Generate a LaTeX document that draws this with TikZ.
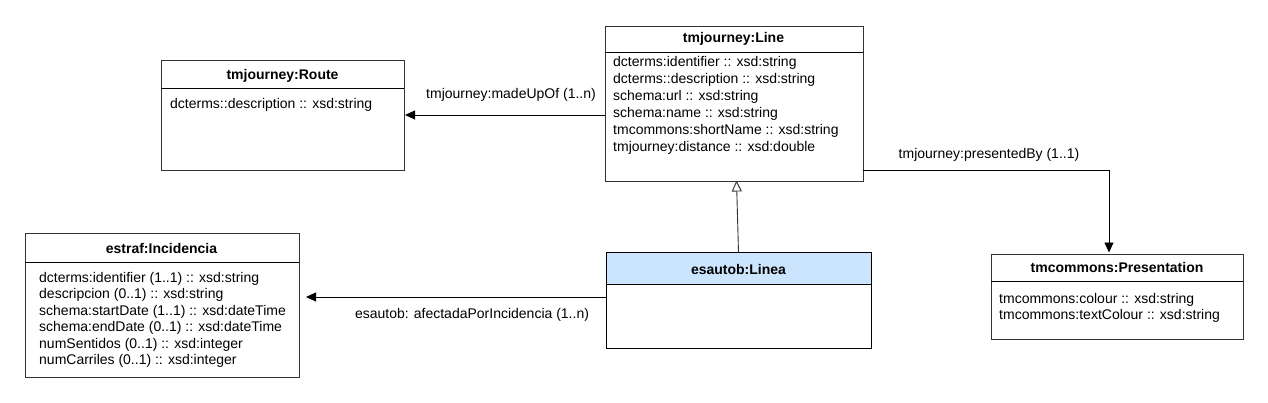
\documentclass[tikz,border=0pt]{standalone}
\usepackage{fontspec}
\setmainfont{Liberation Sans}
\usetikzlibrary{arrows.meta}
\definecolor{stroke}{HTML}{333333}
\definecolor{hdrblue}{HTML}{CCE5FF}
\tikzset{
  cls/.style={draw=stroke, line width=0.9pt, fill=white, anchor=north west, inner sep=0pt},
  ttl/.style={font=\fontsize{14}{16}\selectfont\bfseries, inner sep=0pt},
  attrs/.style={font=\fontsize{14}{17}\selectfont, align=left, anchor=north west, inner sep=0pt},
  attrsB/.style={attrs, font=\fontsize{14}{16.5}\selectfont},
  lbl/.style={font=\fontsize{14}{16}\selectfont, inner sep=0pt},
  assoc/.style={draw=black, line width=0.9pt, -{Triangle[length=10pt,width=9pt]}},
  gen/.style={draw=stroke, line width=0.9pt, -{Triangle[open,length=11pt,width=10pt,fill=white]}}
}
\begin{document}
\begin{tikzpicture}[x=1pt,y=-1pt]
\useasboundingbox (0,0) rectangle (1268,402);
% Route
\node[cls, minimum width=243pt, minimum height=110pt] (route) at (161,60) {};
\draw[stroke, line width=0.9pt] (161,88) -- (404,88);
\node[ttl] (routeT) at (282.5,75.5) {tmjourney:Route};
\node[attrs] (routeA) at (170,98) {dcterms::description :: xsd:string};
% Line
\node[cls, minimum width=258pt, minimum height=155pt] (line) at (604.5,25.5) {};
\draw[stroke, line width=0.9pt] (604.5,52) -- (862.5,52);
\node[ttl] (lineT) at (733.5,39) {tmjourney:Line};
\node[attrs] (lineA) at (613,56) {dcterms:identifier :: xsd:string\\dcterms::description :: xsd:string\\schema:url :: xsd:string\\schema:name :: xsd:string\\tmcommons:shortName :: xsd:string\\tmjourney:distance :: xsd:double};
% Incidencia
\node[cls, minimum width=274pt, minimum height=144pt] (inc) at (24.5,232.5) {};
\draw[stroke, line width=0.9pt] (24.5,262) -- (298.5,262);
\node[ttl] (incT) at (161.5,248) {estraf:Incidencia};
\node[attrsB] (incA) at (39,272) {dcterms:identifier (1..1) :: xsd:string\\descripcion (0..1) :: xsd:string\\schema:startDate (1..1) :: xsd:dateTime\\schema:endDate (0..1) :: xsd:dateTime\\numSentidos (0..1) :: xsd:integer\\numCarriles (0..1) :: xsd:integer};
% Linea
\node[cls, draw=none, minimum width=264pt, minimum height=95pt] (linea) at (606.5,252.5) {};
\fill[hdrblue] (606.5,252.5) rectangle (870.5,284);
\draw[stroke, line width=0.9pt] (linea.north west) rectangle (linea.south east);
\draw[stroke, line width=0.9pt] (606.5,284) -- (870.5,284);
\node[ttl] (lineaT) at (738.5,269) {esautob:Linea};
% Presentation
\node[cls, minimum width=252pt, minimum height=85pt] (pres) at (991,253.5) {};
\draw[stroke, line width=0.9pt] (991,281.5) -- (1243,281.5);
\node[ttl] (presT) at (1117,267) {tmcommons:Presentation};
\node[attrsB] (presA) at (999,293) {tmcommons:colour :: xsd:string\\tmcommons:textColour :: xsd:string};
% connectors
\coordinate (madeS) at (604.5,115);
\coordinate (madeE) at (405,115);
\draw[assoc] (madeS) -- (madeE);
\node[lbl] (madeL) at (511,95) {tmjourney:madeUpOf (1..n)};
\coordinate (presS) at (862.5,170);
\coordinate (presE) at (1109,252.5);
\draw[assoc] (presS) -| (presE);
\node[lbl] (presL) at (989,155) {tmjourney:presentedBy (1..1)};
\coordinate (afS) at (606.5,297);
\coordinate (afE) at (306,297);
\draw[assoc] (afS) -- (afE);
\node[lbl] (afL) at (472,315) {esautob: afectadaPorIncidencia (1..n)};
\coordinate (genS) at (738.5,252.5);
\coordinate (genE) at (736.5,180.5);
\draw[gen] (genS) -- (genE);
\end{tikzpicture}
\end{document}
